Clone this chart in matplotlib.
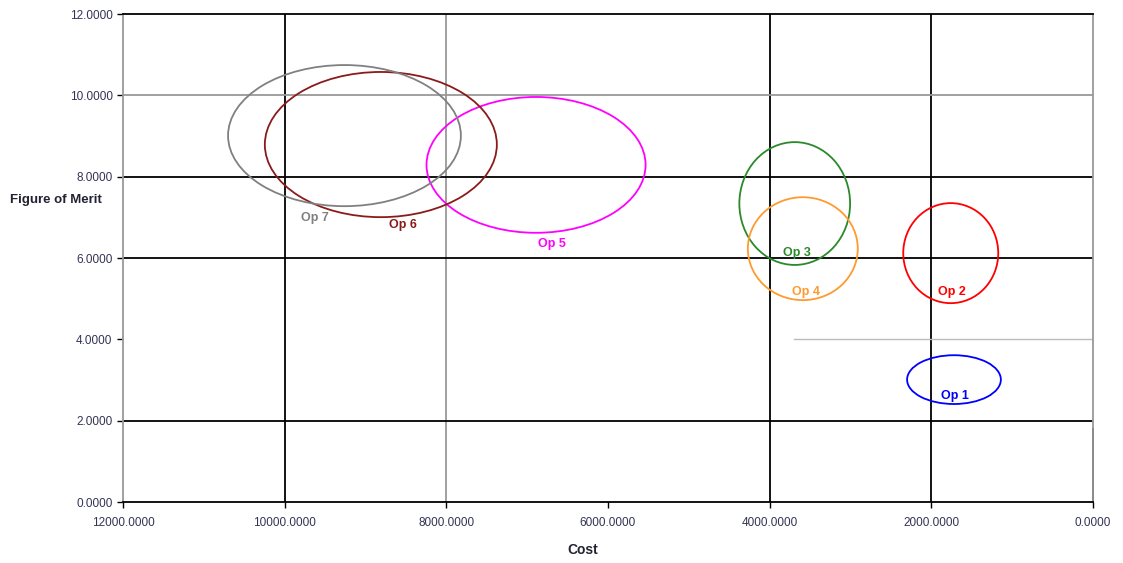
import matplotlib
matplotlib.use("Agg")
import matplotlib.pyplot as plt
from matplotlib.patches import Ellipse
import matplotlib.ticker as mticker

plt.rcParams["font.family"] = ["Liberation Sans", "DejaVu Sans"]

# Options: centre of each ellipse (cost, figure of merit) and full spans
options = ["Op 1", "Op 2", "Op 3", "Op 4", "Op 5", "Op 6", "Op 7"]
cost_center = [1720, 1760, 3690, 3590, 6890, 8810, 9260]
fom_center = [3.01, 6.12, 7.34, 6.23, 8.29, 8.79, 9.01]
cost_span = [1160, 1175, 1370, 1360, 2710, 2870, 2880]
fom_span = [1.20, 2.46, 3.02, 2.53, 3.34, 3.57, 3.47]
label_cost = [1710, 1745, 3660, 3550, 6690, 8540, 9625]
label_fom = [2.61, 5.16, 6.12, 5.16, 6.34, 6.81, 6.98]
colors = ["#0000FF", "#FF0000", "#2A8A2A", "#FF9A2E", "#FF00FF", "#8B1A1A", "#808080"]

y_ticks = [0, 2, 4, 6, 8, 10, 12]
x_ticks = [12000, 10000, 8000, 6000, 4000, 2000, 0]

fig = plt.figure(figsize=(11.23, 5.63), dpi=100)
ax = fig.add_axes([0.1095, 0.1083, 0.8638, 0.8668])

ax.set_xlim(12000, 0)
ax.set_ylim(0, 12)

# Grid as in the source sheet (mixed black / grey lines)
for xv, c in [(10000, "black"), (8000, "#999999"), (4000, "black"), (2000, "black")]:
    ax.axvline(xv, color=c, lw=1.3, zorder=1)
for yv, c in [(10, "#999999"), (8, "black"), (6, "black"), (2, "black")]:
    ax.axhline(yv, color=c, lw=1.3, zorder=1)
ax.plot([3700, 0], [4, 4], color="#BBBBBB", lw=1.0, zorder=1)
ax.plot([0, 0], [0, 1.8], color="black", lw=1.3, zorder=2, clip_on=False)

for name, cx, cy, w, h, lx, ly, col in zip(options, cost_center, fom_center,
                                             cost_span, fom_span, label_cost,
                                             label_fom, colors):
    ax.add_patch(Ellipse((cx, cy), w, h, fill=False, edgecolor=col, lw=1.3, zorder=3))
    ax.text(lx, ly, name, color=col, fontsize=9, fontweight="bold",
            ha="center", va="center", zorder=4)

for side, c in [("left", "#999999"), ("right", "#999999"), ("top", "black"), ("bottom", "black")]:
    ax.spines[side].set_color(c)
    ax.spines[side].set_linewidth(1.3)

ax.set_yticks(y_ticks)
ax.set_xticks(x_ticks)
ax.yaxis.set_major_formatter(mticker.FormatStrFormatter("%.4f"))
ax.xaxis.set_major_formatter(mticker.FormatStrFormatter("%.4f"))
ax.tick_params(axis="both", labelsize=8.5, labelcolor="#333355", length=4, width=1.0, color="black")
ax.tick_params(axis="x", pad=7)

fig.text(0.009, 0.645, "Figure of Merit", fontsize=9.5, fontweight="bold",
         color="#222233", ha="left", va="center")
fig.text(0.519, 0.023, "Cost", fontsize=10, fontweight="bold", color="#222233",
         ha="center", va="center")

fig.savefig("out.png", dpi=100)
